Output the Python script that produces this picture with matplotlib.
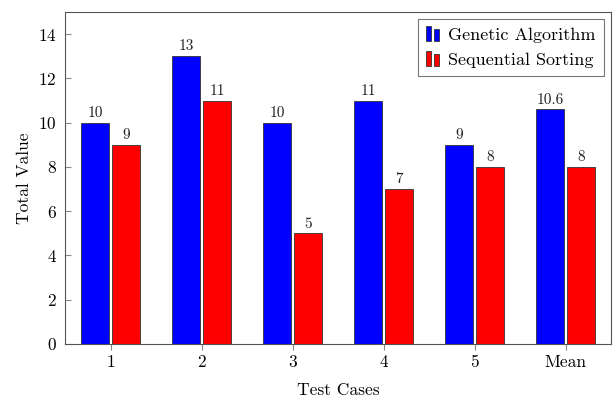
import matplotlib.pyplot as plt
import matplotlib.patches as mpatches
from matplotlib.legend_handler import HandlerBase

plt.rcParams['font.family'] = ['cmr10', 'DejaVu Serif']
plt.rcParams['axes.formatter.use_mathtext'] = True
plt.rcParams['mathtext.fontset'] = 'cm'

cases = ['1', '2', '3', '4', '5', 'Mean']
genetic = [10, 13, 10, 11, 9, 10.6]
sequential = [9, 11, 5, 7, 8, 8]
genetic_labels = ['10', '13', '10', '11', '9', '10.6']
sequential_labels = ['9', '11', '5', '7', '8', '8']


class TwoBarHandler(HandlerBase):
    def create_artists(self, legend, orig_handle, xd, yd, width, height, fontsize, trans):
        fc = orig_handle.get_facecolor()
        w = width * 0.3
        h = height * 1.2
        y0 = yd - 0.1 * height
        r1 = mpatches.Rectangle((xd, y0), w, h, facecolor=fc, edgecolor='#333333', lw=0.6, transform=trans)
        r2 = mpatches.Rectangle((xd + w * 1.5, y0), w, h * 0.8, facecolor=fc, edgecolor='#333333', lw=0.6, transform=trans)
        return [r1, r2]


fig = plt.figure(figsize=(6.14, 3.98), dpi=100)
ax = fig.add_axes([65 / 614, 1 - 344 / 398, (611 - 65) / 614, (344 - 12) / 398])

x = list(range(len(cases)))
bw = 0.31
b1 = ax.bar([i - 0.17 for i in x], genetic, bw, color='#0000ff', edgecolor='#333333', linewidth=0.6)
b2 = ax.bar([i + 0.17 for i in x], sequential, bw, color='#ff0000', edgecolor='#333333', linewidth=0.6)

ax.bar_label(b1, labels=genetic_labels, padding=2, fontsize=11, color='#222222')
ax.bar_label(b2, labels=sequential_labels, padding=2, fontsize=11, color='#222222')

ax.set_xlim(-0.5, 5.5)
ax.set_ylim(0, 15)
ax.set_xticks(x)
ax.set_xticklabels(cases)
ax.set_yticks(range(0, 15, 2))
ax.tick_params(axis='y', direction='in', length=4, color='#888888', labelsize=12.5, pad=6)
ax.tick_params(axis='x', direction='out', length=4, color='#888888', labelsize=12.5)
for s in ax.spines.values():
    s.set_color('#555555')
    s.set_linewidth(0.8)

ax.set_xlabel('Test Cases', fontsize=12.5, labelpad=9)
ax.set_ylabel('Total Value', fontsize=12.5, labelpad=4)

h1 = mpatches.Rectangle((0, 0), 1, 1, facecolor='#0000ff')
h2 = mpatches.Rectangle((0, 0), 1, 1, facecolor='#ff0000')
leg = ax.legend([h1, h2], ['Genetic Algorithm', 'Sequential Sorting'],
                handler_map={mpatches.Rectangle: TwoBarHandler()}, loc='upper right',
                fontsize=13, frameon=True, fancybox=False, edgecolor='#555555',
                borderaxespad=0.4, handlelength=0.9, handletextpad=0.3, labelspacing=0.5,
                borderpad=0.45)
leg.get_frame().set_linewidth(0.8)

fig.savefig('out.png', dpi=100)
